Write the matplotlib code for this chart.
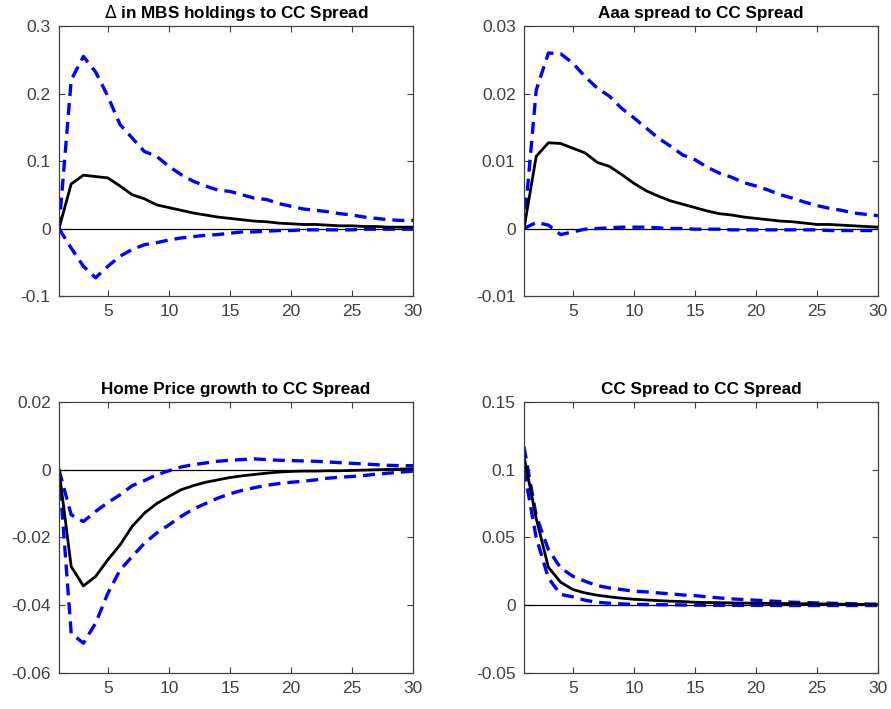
import matplotlib
matplotlib.use("Agg")
import matplotlib.pyplot as plt
import numpy as np

plt.rcParams['font.family'] = ['Liberation Sans', 'DejaVu Sans']

horizon = np.arange(1, 31)

# impulse responses (median) and error bands, one set per panel
mbs_mid = [0.000, 0.066, 0.079, 0.077, 0.075, 0.063, 0.050, 0.044, 0.035, 0.031,
           0.027, 0.023, 0.020, 0.017, 0.015, 0.013, 0.011, 0.010, 0.008, 0.007,
           0.006, 0.006, 0.005, 0.004, 0.004, 0.003, 0.003, 0.002, 0.002, 0.002]
mbs_hi = [0.000, 0.220, 0.255, 0.232, 0.196, 0.154, 0.134, 0.114, 0.107, 0.092,
          0.080, 0.070, 0.063, 0.057, 0.055, 0.050, 0.045, 0.043, 0.037, 0.033,
          0.029, 0.027, 0.025, 0.022, 0.020, 0.017, 0.015, 0.013, 0.012, 0.012]
mbs_lo = [0.000, -0.029, -0.056, -0.073, -0.056, -0.041, -0.031, -0.024, -0.021, -0.017,
          -0.014, -0.012, -0.010, -0.009, -0.007, -0.005, -0.005, -0.004, -0.003, -0.003,
          -0.002, -0.002, -0.002, -0.002, -0.002, -0.001, -0.001, -0.001, -0.001, -0.001]

aaa_mid = [0.0000, 0.0107, 0.0127, 0.0126, 0.0119, 0.0112, 0.0098, 0.0092, 0.0080, 0.0067,
           0.0056, 0.0048, 0.0041, 0.0036, 0.0031, 0.0026, 0.0022, 0.0020, 0.0017, 0.0015,
           0.0013, 0.0011, 0.0010, 0.0008, 0.0006, 0.0006, 0.0005, 0.0004, 0.0003, 0.0002]
aaa_hi = [0.0000, 0.0205, 0.0260, 0.0259, 0.0245, 0.0225, 0.0208, 0.0196, 0.0178, 0.0164,
          0.0149, 0.0134, 0.0122, 0.0109, 0.0102, 0.0091, 0.0082, 0.0076, 0.0068, 0.0063,
          0.0057, 0.0050, 0.0045, 0.0039, 0.0034, 0.0030, 0.0027, 0.0023, 0.0021, 0.0019]
aaa_lo = [0.0000, 0.0009, 0.0005, -0.0009, -0.0005, -0.0001, 0.0000, 0.0001, 0.0002, 0.0002,
          0.0002, 0.0001, 0.0000, 0.0000, -0.0001, -0.0001, -0.0001, -0.0002, -0.0002, -0.0002,
          -0.0002, -0.0002, -0.0002, -0.0002, -0.0002, -0.0003, -0.0003, -0.0003, -0.0003, -0.0003]

hpg_mid = [0.0000, -0.0286, -0.0343, -0.0315, -0.0266, -0.0222, -0.0167, -0.0128, -0.0100, -0.0079,
           -0.0059, -0.0047, -0.0037, -0.0030, -0.0023, -0.0018, -0.0014, -0.0010, -0.0007, -0.0005,
           -0.0004, -0.0004, -0.0003, -0.0003, -0.0002, -0.0001, 0.0000, 0.0001, 0.0002, 0.0003]
hpg_hi = [0.0000, -0.0133, -0.0153, -0.0123, -0.0097, -0.0074, -0.0047, -0.0032, -0.0015, -0.0003,
          0.0008, 0.0015, 0.0020, 0.0025, 0.0028, 0.0030, 0.0032, 0.0030, 0.0028, 0.0027,
          0.0026, 0.0025, 0.0023, 0.0021, 0.0019, 0.0017, 0.0015, 0.0013, 0.0012, 0.0012]
hpg_lo = [0.0000, -0.0483, -0.0512, -0.0453, -0.0365, -0.0296, -0.0256, -0.0217, -0.0187, -0.0163,
          -0.0138, -0.0116, -0.0100, -0.0084, -0.0071, -0.0061, -0.0053, -0.0046, -0.0041, -0.0037,
          -0.0034, -0.0030, -0.0025, -0.0022, -0.0020, -0.0017, -0.0013, -0.0010, -0.0007, -0.0004]

cc_mid = [0.110, 0.064, 0.028, 0.017, 0.0116, 0.0091, 0.0074, 0.0062, 0.0052, 0.0044,
          0.0039, 0.0034, 0.0030, 0.0027, 0.0022, 0.0020, 0.0019, 0.0017, 0.0016, 0.0015,
          0.0014, 0.0013, 0.0012, 0.0011, 0.0010, 0.0009, 0.0008, 0.0007, 0.0006, 0.0005]
cc_hi = [0.117, 0.066, 0.041, 0.0276, 0.0214, 0.0177, 0.0145, 0.0128, 0.0116, 0.0103,
         0.0099, 0.0091, 0.0084, 0.0076, 0.0071, 0.0062, 0.0054, 0.0047, 0.0042, 0.0037,
         0.0032, 0.0027, 0.0022, 0.0020, 0.0017, 0.0015, 0.0013, 0.0011, 0.0009, 0.0008]
cc_lo = [0.100, 0.050, 0.020, 0.008, 0.0062, 0.0037, 0.0022, 0.0015, 0.0010, 0.0006,
         0.0005, 0.0004, 0.0003, 0.0002, 0.0001, 0.0000, 0.0000, -0.0001, -0.0001, -0.0001,
         -0.0001, -0.0002, -0.0002, -0.0002, -0.0002, -0.0002, -0.0002, -0.0002, -0.0002, -0.0002]

titles = [r'$\Delta$ in MBS holdings to CC Spread', 'Aaa spread to CC Spread',
          'Home Price growth to CC Spread', 'CC Spread to CC Spread']
yticks = [[-0.1, 0, 0.1, 0.2, 0.3],
          [-0.01, 0, 0.01, 0.02, 0.03],
          [-0.06, -0.04, -0.02, 0, 0.02],
          [-0.05, 0, 0.05, 0.1, 0.15]]
ytick_labels = [['-0.1', '0', '0.1', '0.2', '0.3'],
                ['-0.01', '0', '0.01', '0.02', '0.03'],
                ['-0.06', '-0.04', '-0.02', '0', '0.02'],
                ['-0.05', '0', '0.05', '0.1', '0.15']]
xticks = [5, 10, 15, 20, 25, 30]

panels = [(mbs_mid, mbs_hi, mbs_lo), (aaa_mid, aaa_hi, aaa_lo),
          (hpg_mid, hpg_hi, hpg_lo), (cc_mid, cc_hi, cc_lo)]

# axes rectangles in figure fractions: [left, bottom, width, height]
rects = [[0.0662, 0.5825, 0.3973, 0.3808],
         [0.5881, 0.5825, 0.3973, 0.3808],
         [0.0662, 0.0508, 0.3973, 0.3822],
         [0.5881, 0.0508, 0.3973, 0.3822]]

grey = '#404040'
fig = plt.figure(figsize=(8.91, 7.09), dpi=100)

for i, (mid, hi, lo) in enumerate(panels):
    ax = fig.add_axes(rects[i])
    ax.plot(horizon, np.zeros(len(horizon)), color='black', lw=0.9)
    ax.plot(horizon, hi, color='#0000ff', lw=2.4, dashes=(3.6, 2.1))
    ax.plot(horizon, lo, color='#0000ff', lw=2.4, dashes=(3.6, 2.1))
    ax.plot(horizon, mid, color='black', lw=2.0)
    ax.set_xlim(1, 30)
    ax.set_ylim(yticks[i][0], yticks[i][-1])
    ax.set_xticks(xticks)
    ax.set_xticklabels([str(t) for t in xticks])
    ax.set_yticks(yticks[i])
    ax.set_yticklabels(ytick_labels[i])
    ax.tick_params(direction='in', length=4, width=0.8, colors=grey,
                   labelsize=12.5, top=True, right=True, pad=6)
    for sp in ax.spines.values():
        sp.set_color(grey)
        sp.set_linewidth(0.9)
    ax.set_title(titles[i], fontsize=12.3, fontweight='bold', color='black', pad=6)

fig.savefig('out.png', dpi=100)
